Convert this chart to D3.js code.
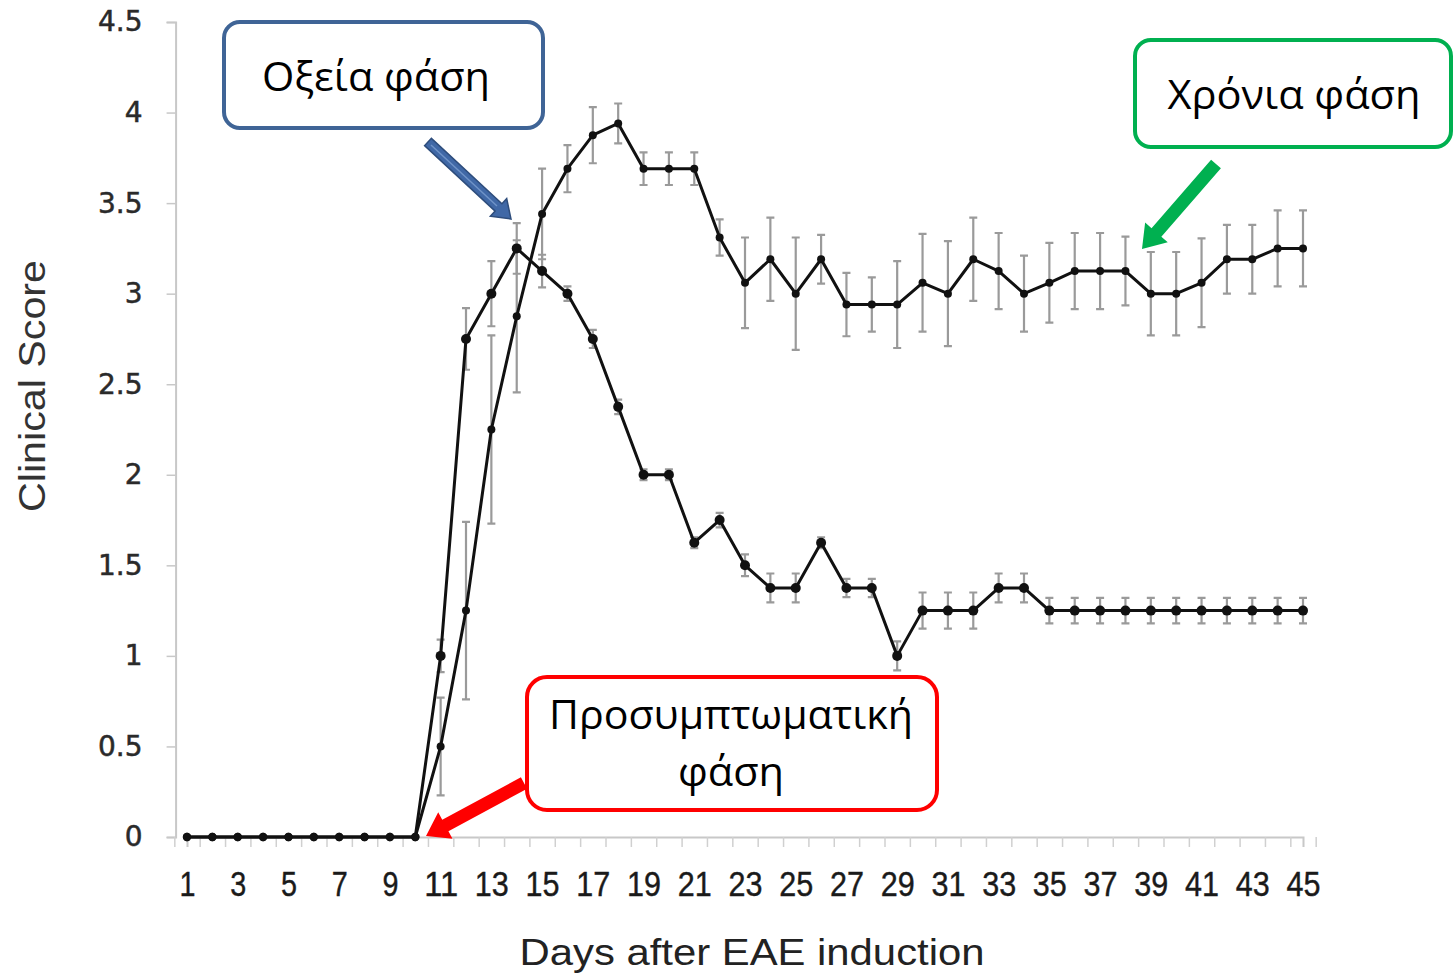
<!DOCTYPE html>
<html>
<head>
<meta charset="utf-8">
<script src="https://cdn.jsdelivr.net/npm/d3@7"></script>
<style>
  html, body { margin: 0; padding: 0; background: #fff; }
  svg { display: block; }
</style>
</head>
<body>
<svg id="chart" width="1453" height="977"></svg>
<script>
// ---- Data ----
const days = [1,2,3,4,5,6,7,8,9,10,11,12,13,14,15,16,17,18,19,20,21,22,23,24,25,26,27,28,29,30,31,32,33,34,35,36,37,38,39,40,41,42,43,44,45];
const dayLabels = [1,3,5,7,9,11,13,15,17,19,21,23,25,27,29,31,33,35,37,39,41,43,45];
const yTicks = [0,0.5,1,1.5,2,2.5,3,3.5,4,4.5];

// acute-then-remitting group
const scoreA = [0,0,0,0,0,0,0,0,0,0,
  1.0,2.75,3.0,3.25,3.125,3.0,2.75,2.375,2.0,2.0,
  1.625,1.75,1.5,1.375,1.375,1.625,1.375,1.375,1.0,1.25,
  1.25,1.25,1.375,1.375,1.25,1.25,1.25,1.25,1.25,1.25,
  1.25,1.25,1.25,1.25,1.25];
const errA = [0,0,0,0,0,0,0,0,0,0,
  0.09,0.17,0.18,0.14,0.09,0.04,0.05,0.04,0.03,0.03,
  0.03,0.04,0.06,0.08,0.08,0.03,0.05,0.05,0.08,0.1,
  0.1,0.1,0.08,0.08,0.07,0.07,0.07,0.07,0.07,0.07,
  0.07,0.07,0.07,0.07,0.07];

// chronic group
const scoreB = [0,0,0,0,0,0,0,0,0,0,
  0.5,1.25,2.25,2.875,3.44,3.69,3.875,3.94,3.69,3.69,
  3.69,3.31,3.06,3.19,3.0,3.19,2.94,2.94,2.94,3.06,
  3.0,3.19,3.125,3.0,3.06,3.125,3.125,3.125,3.0,3.0,
  3.06,3.19,3.19,3.25,3.25];
const errB = [0,0,0,0,0,0,0,0,0,0,
  0.27,0.49,0.52,0.42,0.25,0.13,0.155,0.11,0.09,0.09,
  0.09,0.1,0.25,0.23,0.31,0.135,0.175,0.15,0.24,0.27,
  0.29,0.23,0.21,0.21,0.22,0.21,0.21,0.19,0.23,0.23,
  0.245,0.19,0.19,0.21,0.21];

const yTitle = "Clinical Score";
const xTitle = "Days after EAE induction";
const noteAcute = "Οξεία φάση";
const noteChronic = "Χρόνια φάση";
const notePre = ["Προσυμπτωματική", "φάση"];

// ---- Scales ----
const svg = d3.select("#chart");
const x = d3.scaleLinear().domain([1, 45]).range([187, 1303]);
const y = d3.scaleLinear().domain([0, 4.5]).range([837, 22]);

// ---- Axes ----
const yAxis = svg.append("g").attr("transform", `translate(${x(0.55)},0)`)
  .call(d3.axisLeft(y).tickValues(yTicks).tickSize(9).tickPadding(24)
    .tickFormat(d => String(d)));
yAxis.select(".domain").attr("stroke", "#c8c8c8").attr("stroke-width", 2);
yAxis.selectAll(".tick line").attr("stroke", "#c8c8c8").attr("stroke-width", 1.5);
yAxis.selectAll(".tick text").attr("font-family", "DejaVu Sans").attr("font-size", 28)
  .attr("fill", "#2a2a2a").attr("stroke", "#2a2a2a").attr("stroke-width", 0.5);

// x axis: ticks between days
const xTickPos = [0.5].concat(days.map(d => d + 0.5));
const xAxisTicks = svg.append("g").attr("transform", `translate(0,${y(0)})`)
  .call(d3.axisBottom(x).tickValues(xTickPos).tickSize(10).tickFormat(""));
xAxisTicks.select(".domain").attr("stroke", "#c8c8c8").attr("stroke-width", 2);
xAxisTicks.selectAll(".tick line").attr("stroke", "#d0d0d0").attr("stroke-width", 1.5);

const xAxisLabels = svg.append("g").attr("transform", `translate(0,${y(0)})`)
  .call(d3.axisBottom(x).tickValues(dayLabels).tickSize(0).tickPadding(34));
xAxisLabels.select(".domain").remove();
xAxisLabels.selectAll(".tick text")
  .attr("font-family", "Liberation Sans").attr("font-size", 35).attr("fill", "#1a1a1a")
  .attr("stroke", "#1a1a1a").attr("stroke-width", 0.4)
  .attr("textLength", d => d < 10 ? 16 : 34).attr("lengthAdjust", "spacingAndGlyphs");

// axis titles
svg.append("text").attr("transform", "translate(45,386) rotate(-90)")
  .attr("text-anchor", "middle").attr("font-family", "Liberation Sans")
  .attr("font-size", 36).attr("fill", "#333")
  .attr("textLength", 252).attr("lengthAdjust", "spacingAndGlyphs").text(yTitle);
svg.append("text").attr("x", 752).attr("y", 965)
  .attr("text-anchor", "middle").attr("font-family", "Liberation Sans")
  .attr("font-size", 37).attr("fill", "#222")
  .attr("textLength", 465).attr("lengthAdjust", "spacingAndGlyphs").text(xTitle);

// ---- Series ----
const series = [
  { vals: scoreA, errs: errA, r: 5 },
  { vals: scoreB, errs: errB, r: 4 }
];
const gErr = svg.append("g");
const gLine = svg.append("g");
const gPts = svg.append("g");
const line = d3.line().x(d => x(d.day)).y(d => y(d.v));

series.forEach(s => {
  const pts = days.map((d, i) => ({ day: d, v: s.vals[i], e: s.errs[i] }));
  const withErr = pts.filter(p => p.e > 0);
  const cap = 4;
  gErr.selectAll(null).data(withErr).enter().append("path")
    .attr("d", p => {
      const cx = x(p.day), t = y(p.v + p.e), b = y(p.v - p.e);
      return `M${cx},${t}V${b}M${cx - cap},${t}H${cx + cap}M${cx - cap},${b}H${cx + cap}`;
    })
    .attr("stroke", "#9a9a9a").attr("stroke-width", 2.2).attr("fill", "none");
  gLine.append("path").datum(pts).attr("d", line)
    .attr("fill", "none").attr("stroke", "#111").attr("stroke-width", 3)
    .attr("stroke-linejoin", "round");
  gPts.selectAll(null).data(pts).enter().append("circle")
    .attr("cx", p => x(p.day)).attr("cy", p => y(p.v))
    .attr("r", p => p.v === 0 ? 4.2 : s.r).attr("fill", "#111");
});

// ---- Annotations ----
function arrowPts(x1, y1, x2, y2, sw, hw, hl) {
  const dx = x2 - x1, dy = y2 - y1, L = Math.hypot(dx, dy);
  const ux = dx / L, uy = dy / L, nx = -uy, ny = ux;
  const bx = x2 - ux * hl, by = y2 - uy * hl;
  return [
    [x1 + nx * sw / 2, y1 + ny * sw / 2],
    [bx + nx * sw / 2, by + ny * sw / 2],
    [bx + nx * hw / 2, by + ny * hw / 2],
    [x2, y2],
    [bx - nx * hw / 2, by - ny * hw / 2],
    [bx - nx * sw / 2, by - ny * sw / 2],
    [x1 - nx * sw / 2, y1 - ny * sw / 2]
  ].map(p => p.join(",")).join(" ");
}

const ann = svg.append("g");
const fontAnn = "Open Sans";

// blue (acute)
ann.append("rect").attr("x", 224).attr("y", 22).attr("width", 319).attr("height", 106)
  .attr("rx", 16).attr("fill", "#fff").attr("stroke", "#3f6496").attr("stroke-width", 4);
ann.append("text").attr("x", 376).attr("y", 91).attr("text-anchor", "middle")
  .attr("font-family", fontAnn).attr("font-size", 40).attr("fill", "#000")
  .attr("textLength", 228).attr("lengthAdjust", "spacingAndGlyphs").text(noteAcute);
ann.append("polygon").attr("points", arrowPts(428, 142, 511, 219, 10, 24, 17))
  .attr("fill", "#4068a6").attr("stroke", "#2e4d7c").attr("stroke-width", 1.5);
ann.append("line").attr("x1", 431).attr("y1", 145).attr("x2", 497).attr("y2", 206)
  .attr("stroke", "#6f93c8").attr("stroke-width", 1.5);

// green (chronic)
ann.append("rect").attr("x", 1135).attr("y", 40).attr("width", 316).attr("height", 107)
  .attr("rx", 16).attr("fill", "#fff").attr("stroke", "#00b050").attr("stroke-width", 4);
ann.append("text").attr("x", 1294).attr("y", 109).attr("text-anchor", "middle")
  .attr("font-family", fontAnn).attr("font-size", 40).attr("fill", "#000")
  .attr("textLength", 253).attr("lengthAdjust", "spacingAndGlyphs").text(noteChronic);
ann.append("polygon").attr("points", arrowPts(1216, 164, 1142, 249, 13, 30, 22))
  .attr("fill", "#00b050");

// red (pre-symptomatic)
ann.append("rect").attr("x", 527).attr("y", 677).attr("width", 410).attr("height", 133)
  .attr("rx", 20).attr("fill", "#fff").attr("stroke", "#ff0000").attr("stroke-width", 4);
ann.append("text").attr("x", 731).attr("y", 729).attr("text-anchor", "middle")
  .attr("font-family", fontAnn).attr("font-size", 40).attr("fill", "#000")
  .attr("textLength", 364).attr("lengthAdjust", "spacingAndGlyphs").text(notePre[0]);
ann.append("text").attr("x", 731).attr("y", 786).attr("text-anchor", "middle")
  .attr("font-family", fontAnn).attr("font-size", 40).attr("fill", "#000")
  .attr("textLength", 106).attr("lengthAdjust", "spacingAndGlyphs").text(notePre[1]);
ann.append("polygon").attr("points", arrowPts(524, 783, 426, 836, 13, 30, 22))
  .attr("fill", "#ff0000");
</script>
</body>
</html>
